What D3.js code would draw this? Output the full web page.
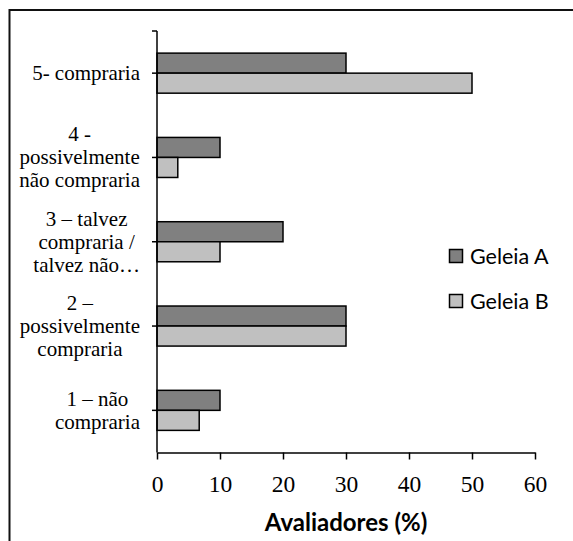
<!DOCTYPE html>
<html>
<head>
<meta charset="utf-8">
<script src="https://cdn.jsdelivr.net/npm/d3@7"></script>
<style>
  html, body { margin: 0; padding: 0; background: #fff; }
  svg { display: block; }
</style>
</head>
<body>
<svg id="chart" width="573" height="541"></svg>
<script>
// Purchase-intention categories (top to bottom) with wrapped label lines
const categories = ["5", "4", "3", "2", "1"];
const categoryLines = [
  ["5- compraria"],
  ["4 -", "possivelmente", "não compraria"],
  ["3 – talvez", "compraria /", "talvez não…"],
  ["2 –", "possivelmente", "compraria"],
  ["1 – não", "compraria"]
];
const seriesNames = ["Geleia A", "Geleia B"];
const geleiaA = [30, 10, 20, 30, 10];
const geleiaB = [50, 3.3, 10, 30, 6.7];
const xTicks = [0, 10, 20, 30, 40, 50, 60];

const colors = ["#808080", "#c0c0c0"];
const serif = "'Liberation Serif', 'Times New Roman', serif";
const sans = "Lato, 'Open Sans', sans-serif";

const svg = d3.select("#chart");
const plot = { left: 157, right: 535, top: 31, bottom: 452.5 };

// outer frame (open on the right and bottom)
svg.append("rect")
  .attr("x", 9.5).attr("y", 10)
  .attr("width", 600).attr("height", 600)
  .attr("fill", "none").attr("stroke", "#111").attr("stroke-width", 2);

const x = d3.scaleLinear().domain([0, 60]).range([plot.left, plot.right]);
const y = d3.scaleBand().domain(categories).range([plot.top, plot.bottom])
  .paddingInner(0.525).paddingOuter(0.2625);
const sub = d3.scaleBand().domain(seriesNames).range([0, y.bandwidth()]);

// bars
const values = [geleiaA, geleiaB];
seriesNames.forEach((s, si) => {
  svg.append("g").selectAll("rect")
    .data(categories)
    .join("rect")
    .attr("x", x(0))
    .attr("y", (c) => y(c) + sub(s))
    .attr("width", (c, i) => x(values[si][i]) - x(0))
    .attr("height", sub.bandwidth())
    .attr("fill", colors[si])
    .attr("stroke", "#000")
    .attr("stroke-width", 1.5);
});

// x axis
const xAxis = svg.append("g")
  .attr("transform", `translate(0,${plot.bottom})`)
  .call(d3.axisBottom(x).tickValues(xTicks).tickSize(7).tickSizeOuter(0).tickFormat(d3.format("d")));
xAxis.select(".domain").attr("stroke", "#000").attr("stroke-width", 1.5);
xAxis.selectAll(".tick line").attr("stroke", "#000").attr("stroke-width", 1.5);
xAxis.selectAll(".tick text")
  .attr("font-family", serif)
  .attr("font-size", 23.5).attr("fill", "#000")
  .attr("y", 0).attr("dy", 39.5);

// y axis line with ticks at category centres and the top end
const yAxis = svg.append("g");
yAxis.append("line")
  .attr("x1", plot.left).attr("x2", plot.left)
  .attr("y1", plot.top).attr("y2", plot.bottom)
  .attr("stroke", "#000").attr("stroke-width", 1.5);
const yTickPos = [plot.top].concat(categories.map((c) => y(c) + y.bandwidth() / 2));
yAxis.selectAll("line.tick")
  .data(yTickPos)
  .join("line")
  .attr("class", "tick")
  .attr("x1", plot.left - 5).attr("x2", plot.left)
  .attr("y1", (d) => d).attr("y2", (d) => d)
  .attr("stroke", "#000").attr("stroke-width", 1.5);

// category labels: each block right-aligned, lines centred within the block
const labelRight = 140;
const lineH = 23;
const labelSize = 21;
const measure = svg.append("text")
  .attr("font-family", serif).attr("font-size", labelSize).attr("visibility", "hidden");
categories.forEach((c, i) => {
  const lines = categoryLines[i];
  const widths = lines.map((t) => { measure.text(t); return measure.node().getComputedTextLength(); });
  const blockW = d3.max(widths);
  const cx = labelRight - blockW / 2;
  const cy = y(c) + y.bandwidth() / 2;
  const firstBase = cy - ((lines.length - 1) * lineH) / 2 + 7;
  const t = svg.append("text")
    .attr("font-family", serif).attr("font-size", labelSize)
    .attr("fill", "#000").attr("text-anchor", "middle");
  lines.forEach((ln, k) => {
    t.append("tspan").attr("x", cx).attr("y", firstBase + k * lineH).text(ln);
  });
});
measure.remove();

// x-axis title
svg.append("text")
  .attr("x", x(30)).attr("y", 531)
  .attr("text-anchor", "middle")
  .attr("font-family", sans)
  .attr("font-weight", "bold").attr("font-size", 24)
  .attr("fill", "#000")
  .text("Avaliadores (%)");

// legend
const legend = svg.append("g").attr("transform", "translate(449,249)");
seriesNames.forEach((s, i) => {
  const g = legend.append("g").attr("transform", `translate(0,${i * 45})`);
  g.append("rect").attr("x", 0.5).attr("y", 0.5).attr("width", 13).attr("height", 13)
    .attr("fill", colors[i]).attr("stroke", "#000").attr("stroke-width", 1.5);
  g.append("text")
    .attr("x", 21).attr("y", 15)
    .attr("font-family", sans)
    .attr("font-size", 21.5).attr("fill", "#000")
    .text(s);
});
</script>
</body>
</html>
